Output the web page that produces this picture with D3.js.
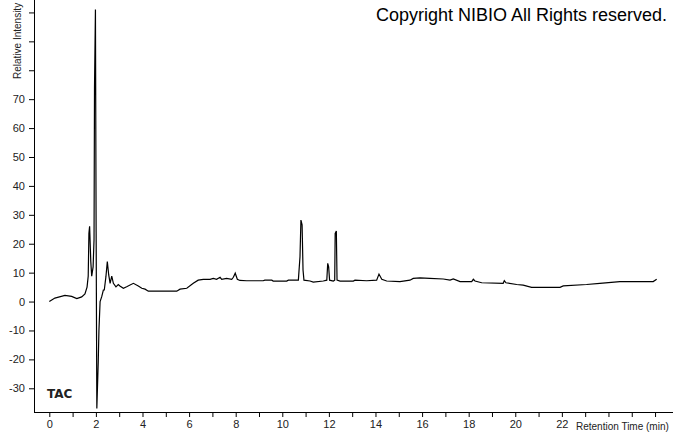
<!DOCTYPE html>
<html><head><meta charset="utf-8">
<script src="https://cdn.jsdelivr.net/npm/d3@7"></script>
<style>body{margin:0;background:#fff}svg{display:block}</style>
</head><body>
<svg id="c" width="673" height="433"></svg>
<script>
const times = [0,0.24,0.67,0.96,1.18,1.39,1.53,1.62,1.67,1.70,1.73,1.78,1.82,1.88,1.92,1.94,1.98,2.01,2.04,2.10,2.13,2.18,2.25,2.32,2.36,2.43,2.49,2.55,2.61,2.68,2.75,2.86,2.96,3.03,3.18,3.32,3.61,3.82,3.97,4.11,4.25,5.47,5.61,5.90,6.18,6.39,6.61,6.90,7.04,7.18,7.33,7.40,7.61,7.83,7.90,7.98,8.07,8.18,8.47,9.18,9.25,9.55,9.61,10.19,10.26,10.69,10.76,10.80,10.85,10.89,10.93,11.19,11.33,11.76,11.91,11.95,11.99,12.03,12.19,12.25,12.27,12.32,12.35,12.48,13.05,13.12,13.62,14.05,14.15,14.27,14.48,15.05,15.48,15.62,15.91,16.33,16.91,17.20,17.34,17.63,18.13,18.20,18.27,18.56,19.48,19.53,19.60,20.06,20.34,20.70,21.35,21.92,22.06,23.06,23.63,24.49,25.92,26.07];
const intensity = [0,1.2,2.1,1.8,1.0,1.6,2.6,5,8.8,23.6,26,13.9,8.8,12,21.5,74,101,24,-37,-21,-10,0,1.7,4,4,8.6,13.8,9.2,6.3,8.8,6.3,5.1,5.9,5.4,4.6,5.1,6.3,5.4,4.6,4.3,3.6,3.6,4.3,4.6,6.3,7.4,7.7,7.7,8,7.7,8.4,7.7,8,7.7,8.4,9.8,7.7,7.3,7.2,7.2,7.4,7.4,7.1,7.1,7.4,7.4,15.5,28.2,26.5,10.9,7.4,7.1,6.7,7.1,7.4,13.2,12,7.4,7.1,7.4,23.6,24.4,7.4,7.1,7.1,7.4,7.2,7.4,9.5,7.7,7.1,6.9,7.4,8,8.2,8,7.8,7.4,7.8,6.9,6.9,7.7,7.1,6.5,6.3,7.2,6.5,5.9,5.7,4.9,4.9,4.9,5.4,5.9,6.3,6.9,6.9,7.7];
const xTickLabels = [0,2,4,6,8,10,12,14,16,18,20,22];
const yTickLabels = [-30,-20,-10,0,10,20,30,40,50,60,70];
const xTitle = "Retention Time (min)";
const yTitle = "Relative Intensity";
const traceName = "TAC";
const copyright = "Copyright NIBIO All Rights reserved.";

const svg = d3.select("#c");
const W = 673, H = 433;
const axisX = 34, axisY = 412;
const x = d3.scaleLinear().domain([-0.657, 26.77]).range([axisX, W]);
const y = d3.scaleLinear().domain([-38.2, 104.3]).range([axisY, 0]);
const font = "Arial, 'Liberation Sans', sans-serif";

// x axis
const gx = svg.append("g").attr("transform", `translate(0,${axisY})`);
gx.call(d3.axisBottom(x).tickValues(d3.range(0, 26.8, 0.2)).tickSize(3).tickFormat(""))
  .call(g => g.select(".domain").remove());
gx.call(d3.axisBottom(x).tickValues(d3.range(0, 27, 1)).tickSize(5).tickFormat(d => xTickLabels.includes(d) ? d : ""))
  .call(g => g.select(".domain").remove());
gx.selectAll("text").attr("font-family", font).attr("font-size", 11).attr("fill", "#222").attr("dy", "0.95em").attr("y", 6);
gx.selectAll("line").attr("stroke", "#000");
svg.append("line").attr("x1", axisX).attr("x2", W).attr("y1", axisY + 0.5).attr("y2", axisY + 0.5).attr("stroke", "#000");

// y axis
const gy = svg.append("g").attr("transform", `translate(${axisX},0)`);
gy.call(d3.axisLeft(y).tickValues(d3.range(-38, 105, 2)).tickSize(3).tickFormat(""))
  .call(g => g.select(".domain").remove());
gy.call(d3.axisLeft(y).tickValues(d3.range(-30, 101, 10)).tickSize(5).tickFormat(d => yTickLabels.includes(d) ? d : ""))
  .call(g => g.select(".domain").remove());
gy.selectAll("text").attr("font-family", font).attr("font-size", 11).attr("fill", "#222").attr("x", -9);
gy.selectAll("line").attr("stroke", "#000");
svg.append("line").attr("x1", axisX + 0.5).attr("x2", axisX + 0.5).attr("y1", 0).attr("y2", axisY).attr("stroke", "#000");

// titles
svg.append("text").attr("x", 576).attr("y", 430).attr("font-family", font).attr("font-size", 10).attr("fill", "#222").text(xTitle);
svg.append("text").attr("transform", "translate(21,79) rotate(-90)").attr("font-family", font).attr("font-size", 10).attr("fill", "#222").text(yTitle);
svg.append("text").attr("x", 47).attr("y", 398).attr("font-family", "'DejaVu Sans', Verdana, sans-serif").attr("font-weight", "bold").attr("font-size", 12).attr("fill", "#222").text(traceName);
svg.append("text").attr("x", 376).attr("y", 21).attr("font-family", font).attr("font-size", 18).attr("fill", "#000").text(copyright);

// trace
const data = times.map((t, i) => [t, intensity[i]]);
svg.append("path").datum(data)
  .attr("fill", "none").attr("stroke", "#000").attr("stroke-width", 1.2).attr("stroke-linejoin", "miter")
  .attr("d", d3.line().x(d => x(d[0])).y(d => y(d[1])));
</script>
</body></html>
